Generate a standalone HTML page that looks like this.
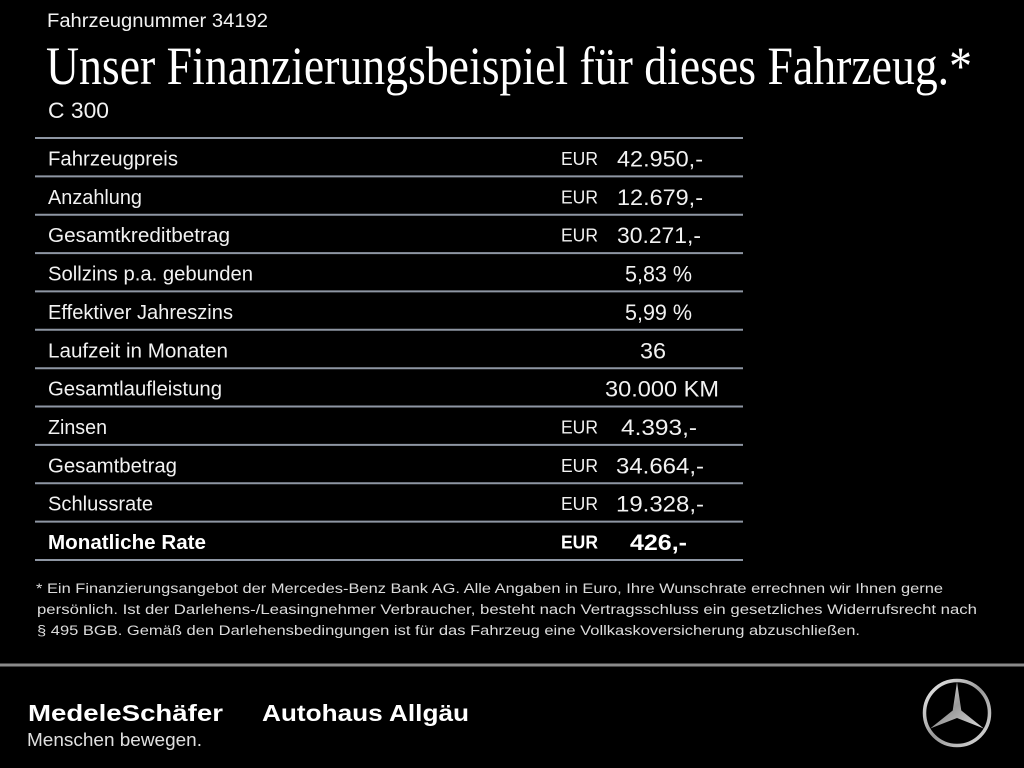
<!DOCTYPE html>
<html>
<head>
<meta charset="utf-8">
<style>
html,body{margin:0;padding:0;background:#000;}
svg{display:block;}
text{font-family:"Liberation Sans",sans-serif;fill:#f2f2f2;}
.lbl{font-size:20px;}
.eur{font-size:18px;}
.val{font-size:22px;}
.fn{font-size:13.5px;fill:#dcdcdc;}
</style>
</head>
<body>
<svg width="1024" height="768" viewBox="0 0 1024 768" xmlns="http://www.w3.org/2000/svg">
<rect width="1024" height="768" fill="#000"/>
<defs>
<linearGradient id="silver" x1="0" y1="0" x2="1" y2="1">
<stop offset="0" stop-color="#f0f0f0"/>
<stop offset="0.5" stop-color="#9a9a9a"/>
<stop offset="1" stop-color="#dcdcdc"/>
</linearGradient>
</defs>

<text x="47" y="27" font-size="19" textLength="221" lengthAdjust="spacingAndGlyphs">Fahrzeugnummer 34192</text>
<text x="46" y="84" font-size="54" style="font-family:'Liberation Serif',serif;fill:#fff" textLength="926" lengthAdjust="spacingAndGlyphs">Unser Finanzierungsbeispiel für dieses Fahrzeug.*</text>
<text x="48" y="118" font-size="22" textLength="61" lengthAdjust="spacingAndGlyphs">C 300</text>

<g stroke="#8e96a3" stroke-width="2">
<line x1="35" y1="138" x2="743" y2="138"/>
<line x1="35" y1="176.4" x2="743" y2="176.4"/>
<line x1="35" y1="214.7" x2="743" y2="214.7"/>
<line x1="35" y1="253.1" x2="743" y2="253.1"/>
<line x1="35" y1="291.4" x2="743" y2="291.4"/>
<line x1="35" y1="329.8" x2="743" y2="329.8"/>
<line x1="35" y1="368.2" x2="743" y2="368.2"/>
<line x1="35" y1="406.5" x2="743" y2="406.5"/>
<line x1="35" y1="444.9" x2="743" y2="444.9"/>
<line x1="35" y1="483.2" x2="743" y2="483.2"/>
<line x1="35" y1="521.6" x2="743" y2="521.6"/>
<line x1="35" y1="560" x2="743" y2="560"/>
</g>

<!-- rows -->
<text class="lbl" x="48" y="165.5" textLength="130" lengthAdjust="spacingAndGlyphs">Fahrzeugpreis</text>
<text class="eur" x="561" y="165" textLength="37" lengthAdjust="spacingAndGlyphs">EUR</text>
<text class="val" x="617" y="166.5" textLength="86" lengthAdjust="spacingAndGlyphs">42.950,-</text>

<text class="lbl" x="48" y="203.9" textLength="94" lengthAdjust="spacingAndGlyphs">Anzahlung</text>
<text class="eur" x="561" y="203.4" textLength="37" lengthAdjust="spacingAndGlyphs">EUR</text>
<text class="val" x="617" y="204.9" textLength="86" lengthAdjust="spacingAndGlyphs">12.679,-</text>

<text class="lbl" x="48" y="242.2" textLength="182" lengthAdjust="spacingAndGlyphs">Gesamtkreditbetrag</text>
<text class="eur" x="561" y="241.7" textLength="37" lengthAdjust="spacingAndGlyphs">EUR</text>
<text class="val" x="617" y="243.2" textLength="84" lengthAdjust="spacingAndGlyphs">30.271,-</text>

<text class="lbl" x="48" y="280.6" textLength="205" lengthAdjust="spacingAndGlyphs">Sollzins p.a. gebunden</text>
<text class="val" x="625" y="281.6" textLength="67" lengthAdjust="spacingAndGlyphs">5,83 %</text>

<text class="lbl" x="48" y="318.9" textLength="185" lengthAdjust="spacingAndGlyphs">Effektiver Jahreszins</text>
<text class="val" x="625" y="319.9" textLength="67" lengthAdjust="spacingAndGlyphs">5,99 %</text>

<text class="lbl" x="48" y="357.3" textLength="180" lengthAdjust="spacingAndGlyphs">Laufzeit in Monaten</text>
<text class="val" x="640" y="358.3" textLength="26" lengthAdjust="spacingAndGlyphs">36</text>

<text class="lbl" x="48" y="395.7" textLength="174" lengthAdjust="spacingAndGlyphs">Gesamtlaufleistung</text>
<text class="val" x="605" y="396.7" textLength="114" lengthAdjust="spacingAndGlyphs">30.000 KM</text>

<text class="lbl" x="48" y="434" textLength="59" lengthAdjust="spacingAndGlyphs">Zinsen</text>
<text class="eur" x="561" y="433.5" textLength="37" lengthAdjust="spacingAndGlyphs">EUR</text>
<text class="val" x="621" y="435" textLength="76" lengthAdjust="spacingAndGlyphs">4.393,-</text>

<text class="lbl" x="48" y="472.4" textLength="129" lengthAdjust="spacingAndGlyphs">Gesamtbetrag</text>
<text class="eur" x="561" y="471.9" textLength="37" lengthAdjust="spacingAndGlyphs">EUR</text>
<text class="val" x="616" y="473.4" textLength="88" lengthAdjust="spacingAndGlyphs">34.664,-</text>

<text class="lbl" x="48" y="510.7" textLength="105" lengthAdjust="spacingAndGlyphs">Schlussrate</text>
<text class="eur" x="561" y="510.2" textLength="37" lengthAdjust="spacingAndGlyphs">EUR</text>
<text class="val" x="616" y="511.7" textLength="88" lengthAdjust="spacingAndGlyphs">19.328,-</text>

<text class="lbl" x="48" y="549.1" font-weight="bold" textLength="158" lengthAdjust="spacingAndGlyphs" style="fill:#fff">Monatliche Rate</text>
<text class="eur" x="561" y="548.6" font-weight="bold" textLength="37" lengthAdjust="spacingAndGlyphs" style="fill:#fff">EUR</text>
<text class="val" x="630" y="550.1" font-weight="bold" textLength="57" lengthAdjust="spacingAndGlyphs" style="fill:#fff">426,-</text>

<!-- footnote -->
<text class="fn" x="36" y="593" textLength="907" lengthAdjust="spacingAndGlyphs">* Ein Finanzierungsangebot der Mercedes-Benz Bank AG. Alle Angaben in Euro, Ihre Wunschrate errechnen wir Ihnen gerne</text>
<text class="fn" x="37" y="614" textLength="940" lengthAdjust="spacingAndGlyphs">persönlich. Ist der Darlehens-/Leasingnehmer Verbraucher, besteht nach Vertragsschluss ein gesetzliches Widerrufsrecht nach</text>
<text class="fn" x="37" y="635" textLength="823" lengthAdjust="spacingAndGlyphs">§ 495 BGB. Gemäß den Darlehensbedingungen ist für das Fahrzeug eine Vollkaskoversicherung abzuschließen.</text>

<rect x="0" y="663.5" width="1024" height="3" fill="#8a8a8a"/>

<!-- footer -->
<text x="28" y="721" font-size="23" font-weight="bold" textLength="195" lengthAdjust="spacingAndGlyphs" style="fill:#fff">MedeleSchäfer</text>
<text x="262" y="721" font-size="23" font-weight="bold" textLength="207" lengthAdjust="spacingAndGlyphs" style="fill:#fff">Autohaus Allgäu</text>
<text x="27" y="746" font-size="18" textLength="175" lengthAdjust="spacingAndGlyphs" style="fill:#e0e0e0">Menschen bewegen.</text>

<!-- star -->
<g transform="translate(957,713)">
<circle r="32.5" fill="none" stroke="url(#silver)" stroke-width="3.5"/>
<polygon points="0,-31 4.3,-2.5 26.8,15.5 0,5 -26.8,15.5 -4.3,-2.5" fill="url(#silver)"/>
</g>
</svg>
</body>
</html>
